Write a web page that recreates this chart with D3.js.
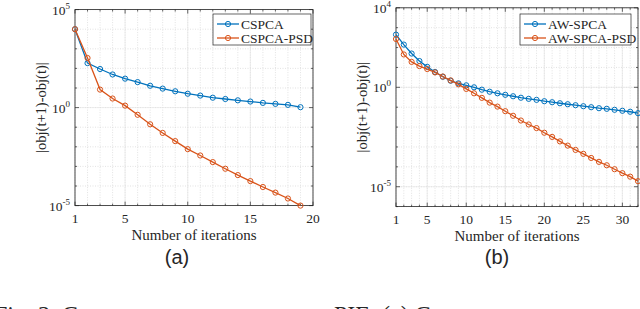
<!DOCTYPE html>
<html>
<head>
<meta charset="utf-8">
<script src="https://cdn.jsdelivr.net/npm/d3@7.9.0/dist/d3.min.js"></script>
<style>
  body { margin: 0; background: #fff; }
  svg { display: block; }
  text { font-family: "Liberation Serif", "Times New Roman", serif; fill: #262626; }
</style>
</head>
<body>
<svg width="640" height="309"></svg>
<script>
// panel (a)
const itersA = d3.range(1, 20);
const cspca = [1.0e4, 186, 93, 49, 30, 20, 13, 9.3, 6.8, 5.1, 4.1, 3.2, 2.75, 2.35, 2.04, 1.74, 1.55, 1.38, 1.05];
const cspcaPsd = [1.0e4, 339, 8.3, 2.9, 1.26, 0.43, 0.141, 0.051, 0.0195, 7.6e-3, 3.6e-3, 1.66e-3, 7.6e-4, 3.6e-4,
  1.78e-4, 8.9e-5, 4.6e-5, 2.3e-5, 1.0e-5];
const xTicksA = [1, 5, 10, 15, 20];
const yTicksA = [-5, 0, 5];

// panel (b)
const itersB = d3.range(1, 33);
const awSpca = [447, 141, 50, 21, 10.7, 5.9, 3.4, 2.14, 1.58, 1.26, 1.0, 0.76, 0.60, 0.50, 0.42, 0.355, 0.30, 0.263,
  0.234, 0.20, 0.178, 0.158, 0.141, 0.126, 0.112, 0.10, 0.089, 0.083, 0.074, 0.066, 0.059, 0.050];
const awSpcaPsd = [269, 45, 19, 11.7, 8.3, 5.6, 3.5, 2.24, 1.41, 0.83, 0.50, 0.295, 0.17, 0.107, 0.063, 0.037, 0.0214,
  0.0135, 8.9e-3, 5.2e-3, 3.2e-3, 1.9e-3, 1.17e-3, 7.1e-4, 4.5e-4, 2.8e-4, 1.78e-4, 1.2e-4, 7.6e-5, 4.8e-5, 3.2e-5, 1.9e-5];
const xTicksB = [1, 5, 10, 15, 20, 25, 30];
const yTicksB = [-5, 0, 4];

const blue = '#0072BD', orange = '#D95319';
const svg = d3.select('svg');

function drawPanel(o) {
  const x = d3.scaleLinear().domain(o.xDom).range([o.left, o.right]);
  const y = d3.scaleLog().domain(o.yDom).range([o.bottom, o.top]);
  const g = svg.append('g');

  // grid
  const xMinor = d3.range(o.xDom[0], o.xDom[1] + 1);
  const decades = d3.range(Math.log10(o.yDom[0]), Math.log10(o.yDom[1]) + 1);
  g.selectAll('.xmin').data(xMinor).enter().append('line')
    .attr('x1', d => x(d)).attr('x2', d => x(d)).attr('y1', o.top).attr('y2', o.bottom)
    .attr('stroke', '#cfcfcf').attr('stroke-width', 0.6).attr('stroke-dasharray', '1,1.5');
  g.selectAll('.ydec').data(decades).enter().append('line')
    .attr('x1', o.left).attr('x2', o.right).attr('y1', d => y(10 ** d)).attr('y2', d => y(10 ** d))
    .attr('stroke', '#cfcfcf').attr('stroke-width', 0.6).attr('stroke-dasharray', '1,1.5');
  g.selectAll('.xmaj').data(o.xTicks).enter().append('line')
    .attr('x1', d => x(d)).attr('x2', d => x(d)).attr('y1', o.top).attr('y2', o.bottom)
    .attr('stroke', '#e3e3e3').attr('stroke-width', 0.6);
  g.selectAll('.ymaj').data(o.yTicks).enter().append('line')
    .attr('x1', o.left).attr('x2', o.right).attr('y1', d => y(10 ** d)).attr('y2', d => y(10 ** d))
    .attr('stroke', '#e3e3e3').attr('stroke-width', 0.6);

  // ticks (inward, all sides)
  const tk = g.append('g').attr('stroke', '#262626').attr('stroke-width', 0.7);
  xMinor.forEach(d => {
    const L = o.xTicks.includes(d) ? 4 : 2;
    tk.append('line').attr('x1', x(d)).attr('x2', x(d)).attr('y1', o.bottom).attr('y2', o.bottom - L);
    tk.append('line').attr('x1', x(d)).attr('x2', x(d)).attr('y1', o.top).attr('y2', o.top + L);
  });
  decades.forEach(d => {
    const L = o.yTicks.includes(d) ? 4 : 2;
    tk.append('line').attr('x1', o.left).attr('x2', o.left + L).attr('y1', y(10 ** d)).attr('y2', y(10 ** d));
    tk.append('line').attr('x1', o.right).attr('x2', o.right - L).attr('y1', y(10 ** d)).attr('y2', y(10 ** d));
  });
  g.append('rect').attr('x', o.left).attr('y', o.top).attr('width', o.right - o.left).attr('height', o.bottom - o.top)
    .attr('fill', 'none').attr('stroke', '#262626').attr('stroke-width', 0.8);

  // tick labels
  g.selectAll('.xl').data(o.xTicks).enter().append('text')
    .attr('x', d => x(d)).attr('y', o.bottom + 17).attr('text-anchor', 'middle')
    .attr('font-size', 13.5).text(d => d);
  o.yTicks.forEach(d => {
    const t = g.append('text').attr('x', o.left - 5).attr('y', y(10 ** d) + 5)
      .attr('text-anchor', 'end').attr('font-size', 13.5);
    t.append('tspan').text('10');
    t.append('tspan').attr('dy', -6).attr('font-size', 9).text(d);
  });

  // axis labels
  g.append('text').attr('x', (o.left + o.right) / 2).attr('y', o.bottom + 34).attr('text-anchor', 'middle')
    .attr('font-size', 15).text('Number of iterations');
  g.append('text').attr('transform', `translate(${o.left - 29},${(o.top + o.bottom) / 2}) rotate(-90)`)
    .attr('text-anchor', 'middle').attr('font-size', 14.5).text('|obj(t+1)-obj(t)|');

  // series
  const line = d3.line().x(d => x(d[0])).y(d => y(d[1]));
  o.series.forEach(s => {
    const pts = o.iters.map((it, i) => [it, s.values[i]]);
    g.append('path').attr('d', line(pts)).attr('fill', 'none').attr('stroke', s.color).attr('stroke-width', 1.3);
    g.selectAll(null).data(pts).enter().append('circle')
      .attr('cx', d => x(d[0])).attr('cy', d => y(d[1])).attr('r', 2.6)
      .attr('fill', 'none').attr('stroke', s.color).attr('stroke-width', 1);
  });

  // legend
  const lg = g.append('g');
  lg.append('rect').attr('x', o.leg[0]).attr('y', o.leg[1]).attr('width', o.leg[2]).attr('height', 31)
    .attr('fill', '#fff').attr('stroke', '#262626').attr('stroke-width', 0.7);
  o.series.forEach((s, i) => {
    const yy = o.leg[1] + 10 + i * 14;
    const x0 = o.leg[0] + 4;
    lg.append('line').attr('x1', x0).attr('x2', x0 + 22).attr('y1', yy).attr('y2', yy)
      .attr('stroke', s.color).attr('stroke-width', 1.3);
    lg.append('circle').attr('cx', x0 + 11).attr('cy', yy).attr('r', 2.6)
      .attr('fill', 'none').attr('stroke', s.color).attr('stroke-width', 1);
    lg.append('text').attr('x', x0 + 24).attr('y', yy + 4.5).attr('font-size', 13.5).text(s.name);
  });

  // caption
  svg.append('text').attr('x', o.cap[0]).attr('y', 264).attr('text-anchor', 'middle')
    .style('font-family', 'Liberation Sans, Arial, sans-serif').attr('font-size', 20).text(o.cap[1]);
}

drawPanel({
  left: 75, right: 313, top: 9.6, bottom: 205.6,
  xDom: [1, 20], yDom: [1e-5, 1e5], xTicks: xTicksA, yTicks: yTicksA, iters: itersA,
  series: [{ name: 'CSPCA', values: cspca, color: blue }, { name: 'CSPCA-PSD', values: cspcaPsd, color: orange }],
  leg: [213, 14, 98], cap: [177, '(a)']
});
drawPanel({
  left: 396, right: 638, top: 7.8, bottom: 206.6,
  xDom: [1, 32], yDom: [1e-6, 1e4], xTicks: xTicksB, yTicks: yTicksB, iters: itersB,
  series: [{ name: 'AW-SPCA', values: awSpca, color: blue }, { name: 'AW-SPCA-PSD', values: awSpcaPsd, color: orange }],
  leg: [520, 14, 111], cap: [497, '(b)']
});

// bottom caption fragments (cropped by the frame, as in the source)
svg.append('text').attr('x', -6).attr('y', 322).attr('font-size', 24).text('Fig. 2. C');
svg.append('text').attr('x', 334).attr('y', 322).attr('font-size', 24).text('PIE. (a) C');
</script>
</body>
</html>
